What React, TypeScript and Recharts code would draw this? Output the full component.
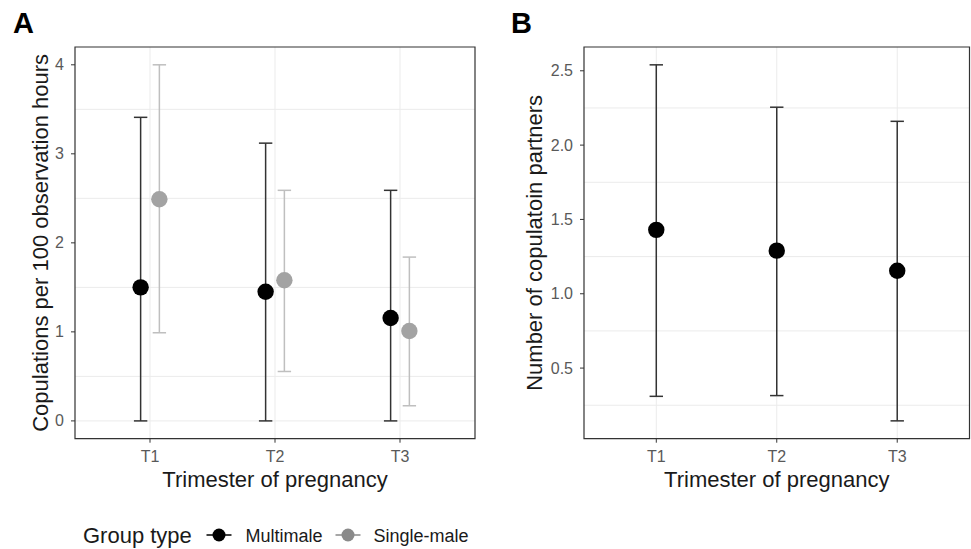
import React from 'react';
import { ScatterChart, Scatter, XAxis, YAxis, CartesianGrid, ErrorBar, ReferenceArea } from 'recharts';

const categories = ['T1', 'T2', 'T3'];

// Panel A: copulations per 100 observation hours
const multiMean = [1.5, 1.45, 1.155];
const multiLower = [0, 0, 0];
const multiUpper = [3.41, 3.12, 2.59];
const singleMean = [2.49, 1.58, 1.01];
const singleLower = [0.99, 0.555, 0.17];
const singleUpper = [4.0, 2.59, 1.84];

// Panel B: number of copulation partners
const partnersMean = [1.43, 1.29, 1.155];
const partnersLower = [0.31, 0.315, 0.145];
const partnersUpper = [2.54, 2.255, 2.16];

const aTicks = [0, 1, 2, 3, 4];
const aMinor = [0.5, 1.5, 2.5, 3.5];
const bTicks = [0.5, 1.0, 1.5, 2.0, 2.5];
const bMinor = [0.25, 0.75, 1.25, 1.75, 2.25];

const seriesNames = ['Multimale', 'Single-male'];
const pointColors = ['#000000', '#a3a3a3'];
const barColors = ['#333333', '#bfbfbf'];
const legendColors = ['#000000', '#8a8a8a'];

const FONT = "'Liberation Sans', Arial, Helvetica, sans-serif";
const DODGE = 0.075;
const TICK_FS = 16;

const build = (mean: number[], lower: number[], upper: number[], offset: number) =>
  mean.map((m, i) => ({ x: i + 1 + offset, y: m, err: [m - lower[i], upper[i] - m] }));

const dotShape = (color: string) => (props: any) => (
  <circle cx={props.cx} cy={props.cy} r={8.2} fill={color} />
);

const XTick = (props: any) => {
  const { x, y, payload } = props;
  return (
    <text x={x} y={y} dy={12} textAnchor="middle" fontSize={TICK_FS} fill="#595959" fontFamily={FONT}>
      {categories[Math.round(payload.value) - 1]}
    </text>
  );
};

const makeYTick = (fmt: (v: number) => string) => (props: any) => {
  const { x, y, payload } = props;
  return (
    <text x={x} y={y} dy={5.5} textAnchor="end" fontSize={TICK_FS} fill="#595959" fontFamily={FONT}>
      {fmt(payload.value)}
    </text>
  );
};

function Panel(props: {
  width: number;
  marginLeft: number;
  marginRight: number;
  yAxisWidth: number;
  yDomain: [number, number];
  yTicks: number[];
  yMinor: number[];
  yLabel: string;
  yFmt: (v: number) => string;
  series: { data: any[]; point: string; bar: string; name: string }[];
}) {
  const { width, marginLeft, marginRight, yAxisWidth, yDomain, yTicks, yMinor, yLabel, yFmt, series } = props;
  return (
    <ScatterChart
      width={width}
      height={549}
      margin={{ top: 47, right: marginRight, left: marginLeft, bottom: 50.3 }}
      style={{ fontFamily: FONT }}
    >
      <CartesianGrid
        stroke="#ebebeb"
        strokeWidth={1}
        horizontalValues={[...yTicks, ...yMinor]}
        verticalValues={[1, 2, 3]}
      />
      <XAxis
        dataKey="x"
        type="number"
        domain={[0.4, 3.6]}
        ticks={[1, 2, 3]}
        allowDataOverflow
        axisLine={false}
        tickLine={{ stroke: '#333333' }}
        tickSize={4}
        tickMargin={7}
        height={60}
        tick={XTick}
        label={{
          value: 'Trimester of pregnancy',
          position: 'insideTop',
          offset: 33,
          style: { fontSize: 22, fill: '#1a1a1a', fontFamily: FONT },
        }}
      />
      <YAxis
        dataKey="y"
        type="number"
        domain={yDomain}
        ticks={yTicks}
        allowDataOverflow
        axisLine={false}
        tickLine={{ stroke: '#333333' }}
        tickSize={4}
        tickMargin={7}
        width={yAxisWidth}
        tick={makeYTick(yFmt)}
        label={{
          value: yLabel,
          angle: -90,
          position: 'center',
          style: { fontSize: 22, fill: '#1a1a1a', fontFamily: FONT, textAnchor: 'middle' },
        }}
      />
      {series.map((s) => (
        <Scatter
          key={s.name}
          name={s.name}
          data={s.data}
          isAnimationActive={false}
          shape={dotShape(s.point)}
        >
          <ErrorBar dataKey="err" direction="y" width={6.7} stroke={s.bar} strokeWidth={1.5} isAnimationActive={false} />
        </Scatter>
      ))}
      <ReferenceArea
        x1={0.4}
        x2={3.6}
        y1={yDomain[0]}
        y2={yDomain[1]}
        fill="none"
        fillOpacity={0}
        stroke="#333333"
        strokeWidth={1.2}
        ifOverflow="extendDomain"
      />
    </ScatterChart>
  );
}

export default function App() {
  const aSeries = [
    { data: build(multiMean, multiLower, multiUpper, -DODGE), point: pointColors[0], bar: barColors[0], name: seriesNames[0] },
    { data: build(singleMean, singleLower, singleUpper, DODGE), point: pointColors[1], bar: barColors[1], name: seriesNames[1] },
  ];
  const bSeries = [
    { data: build(partnersMean, partnersLower, partnersUpper, 0), point: pointColors[0], bar: barColors[0], name: seriesNames[0] },
  ];
  return (
    <div style={{ position: 'absolute', left: 0, top: 0, width: 971, height: 549, background: '#fff', fontFamily: FONT, overflow: 'hidden' }}>
      <div style={{ position: 'absolute', left: 0, top: 0 }}>
        <Panel
          width={480}
          marginLeft={5}
          marginRight={5}
          yAxisWidth={70}
          yDomain={[-0.2, 4.2]}
          yTicks={aTicks}
          yMinor={aMinor}
          yLabel="Copulations per 100 observation hours"
          yFmt={(v) => String(v)}
          series={aSeries}
        />
      </div>
      <div style={{ position: 'absolute', left: 480, top: 0 }}>
        <Panel
          width={491}
          marginLeft={4}
          marginRight={1.5}
          yAxisWidth={100}
          yDomain={[0.025, 2.66]}
          yTicks={bTicks}
          yMinor={bMinor}
          yLabel="Number of copulatoin partners"
          yFmt={(v) => v.toFixed(1)}
          series={bSeries}
        />
      </div>
      <svg style={{ position: 'absolute', left: 0, top: 0 }} width={971} height={549} pointerEvents="none">
        <text x={13} y={33} fontSize={29} fontWeight="bold" fill="#000" fontFamily={FONT}>A</text>
        <text x={511} y={33} fontSize={29} fontWeight="bold" fill="#000" fontFamily={FONT}>B</text>
        <text x={83} y={543} fontSize={22} fill="#1a1a1a" fontFamily={FONT}>Group type</text>
        {seriesNames.map((n, i) => {
          const cx = i === 0 ? 219 : 348;
          const lx = i === 0 ? 245.5 : 373.5;
          return (
            <g key={n}>
              <line x1={cx - 12.5} x2={cx + 12.5} y1={535} y2={535} stroke={legendColors[i]} strokeWidth={1.5} />
              <circle cx={cx} cy={535} r={6.5} fill={legendColors[i]} />
              <text x={lx} y={541.5} fontSize={18} fill="#1a1a1a" fontFamily={FONT}>{n}</text>
            </g>
          );
        })}
      </svg>
    </div>
  );
}
